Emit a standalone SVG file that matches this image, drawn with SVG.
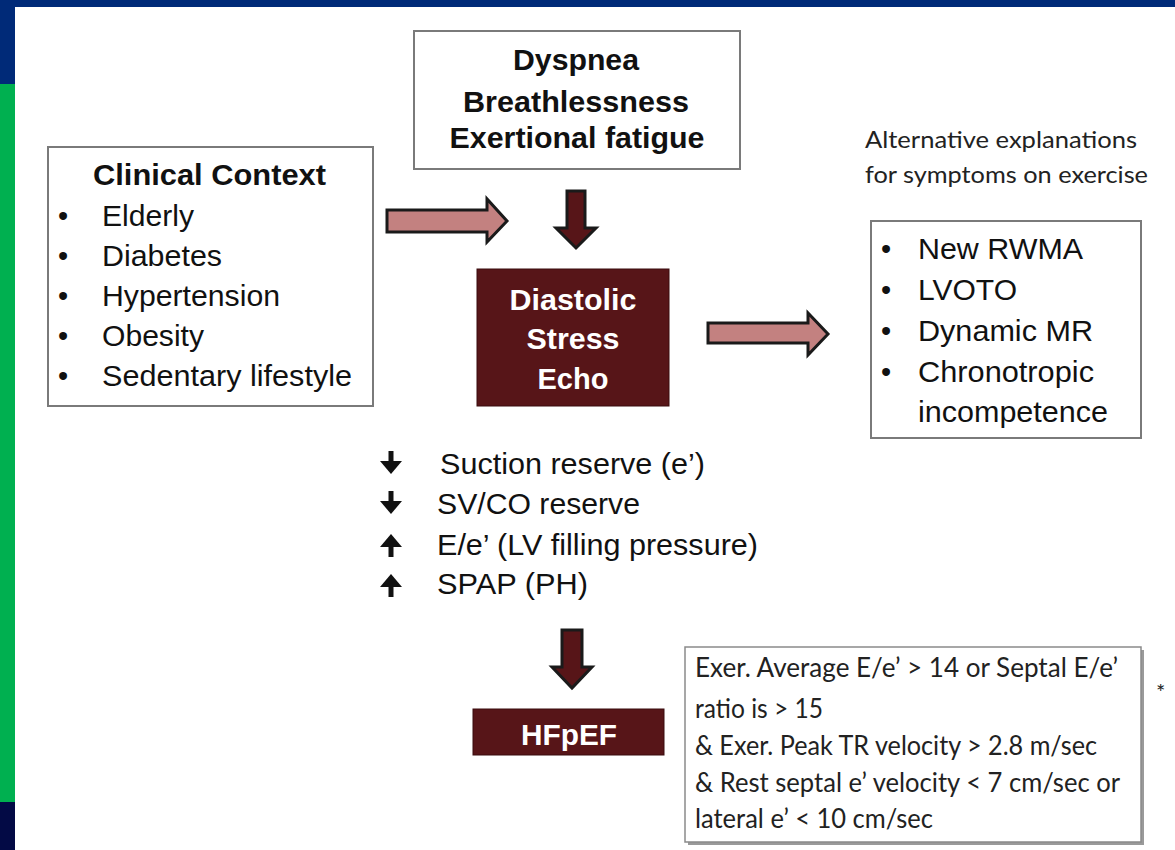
<svg xmlns="http://www.w3.org/2000/svg" width="1175" height="850" viewBox="0 0 1175 850">
<style>
.bx{fill:#fff;stroke:#7a7a7a;stroke-width:2}
.dk{fill:#571518;stroke:#3a0d0f;stroke-width:1}
.b{font-family:"Liberation Sans",Arial,sans-serif;font-weight:bold;font-size:29px;fill:#111}
.w{font-family:"Liberation Sans",Arial,sans-serif;font-weight:bold;font-size:29px;fill:#fff}
.r{font-family:"Liberation Sans",Arial,sans-serif;font-size:29px;fill:#111}
.c{font-family:Lato,"Open Sans",sans-serif;font-size:26px;fill:#222}
.pk{fill:#c38180;stroke:#1a1a1a;stroke-width:3;stroke-linejoin:miter}
.dn{fill:#571518;stroke:#1a1a1a;stroke-width:3;stroke-linejoin:miter}
.ic{fill:none;stroke:#111;stroke-width:5}
.ih{fill:#111}
</style>
<rect width="1175" height="850" fill="#fff"/>
<rect x="0" y="0" width="1175" height="7" fill="#002a78"/>
<rect x="0" y="0" width="15" height="84" fill="#002a78"/>
<rect x="0" y="84" width="15" height="718" fill="#00b050"/>
<rect x="0" y="802" width="15" height="48" fill="#030a45"/>

<g id="connectors">
<path class="pk" d="M387,210 H487 V199 L507,221 L487,242 V232 H387 Z"/>
<path class="dn" d="M567,191 H585 V228 H596 L576,248 L556,228 H567 Z"/>
<path class="pk" d="M708,323 H808 V313 L828,334 L808,355 V343 H708 Z"/>
<path class="dn" d="M562,630 H582 V667 H592 L572,688 L552,667 H562 Z"/>
</g>

<g id="symptoms">
<rect class="bx" x="414" y="31" width="326" height="138"/>
<text class="b" x="576" y="70" text-anchor="middle" textLength="126" lengthAdjust="spacingAndGlyphs">Dyspnea</text>
<text class="b" x="576" y="112" text-anchor="middle" textLength="226" lengthAdjust="spacingAndGlyphs">Breathlessness</text>
<text class="b" x="577" y="148" text-anchor="middle" textLength="255" lengthAdjust="spacingAndGlyphs">Exertional fatigue</text>
</g>

<g id="clinical">
<rect class="bx" x="48" y="147" width="325" height="259"/>
<text class="b" x="93" y="185" textLength="233" lengthAdjust="spacingAndGlyphs">Clinical Context</text>
<text class="r" x="58" y="226">•</text>
<text class="r" x="58" y="266">•</text>
<text class="r" x="58" y="306">•</text>
<text class="r" x="58" y="346">•</text>
<text class="r" x="58" y="386">•</text>
<text class="r" x="102" y="226" textLength="92" lengthAdjust="spacingAndGlyphs">Elderly</text>
<text class="r" x="102" y="266" textLength="120" lengthAdjust="spacingAndGlyphs">Diabetes</text>
<text class="r" x="102" y="306" textLength="178" lengthAdjust="spacingAndGlyphs">Hypertension</text>
<text class="r" x="102" y="346" textLength="102" lengthAdjust="spacingAndGlyphs">Obesity</text>
<text class="r" x="102" y="386" textLength="250" lengthAdjust="spacingAndGlyphs">Sedentary lifestyle</text>
</g>

<g id="dse">
<rect class="dk" x="477" y="269" width="192" height="137"/>
<text class="w" x="573" y="310" text-anchor="middle" textLength="127" lengthAdjust="spacingAndGlyphs">Diastolic</text>
<text class="w" x="573" y="349" text-anchor="middle" textLength="93" lengthAdjust="spacingAndGlyphs">Stress</text>
<text class="w" x="573" y="389" text-anchor="middle" textLength="71" lengthAdjust="spacingAndGlyphs">Echo</text>
</g>

<g id="alt-label">
<text class="c" x="865" y="148" textLength="272" lengthAdjust="spacingAndGlyphs" style="font-size:24px">Alternative explanations</text>
<text class="c" x="865" y="183" textLength="283" lengthAdjust="spacingAndGlyphs" style="font-size:24px">for symptoms on exercise</text>
</g>

<g id="alternatives">
<rect class="bx" x="871" y="221" width="270" height="217"/>
<text class="r" x="881" y="259">•</text>
<text class="r" x="881" y="300">•</text>
<text class="r" x="881" y="341">•</text>
<text class="r" x="881" y="382">•</text>
<text class="r" x="918" y="259" textLength="165" lengthAdjust="spacingAndGlyphs">New RWMA</text>
<text class="r" x="918" y="300" textLength="99" lengthAdjust="spacingAndGlyphs">LVOTO</text>
<text class="r" x="918" y="341" textLength="175" lengthAdjust="spacingAndGlyphs">Dynamic MR</text>
<text class="r" x="918" y="382" textLength="176" lengthAdjust="spacingAndGlyphs">Chronotropic</text>
<text class="r" x="918" y="422" textLength="190" lengthAdjust="spacingAndGlyphs">incompetence</text>
</g>

<g id="findings">
<path class="ic" d="M391,451 V465"/><path class="ih" d="M380,461 H402 L391,474 Z"/>
<path class="ic" d="M391,491 V505"/><path class="ih" d="M380,501 H402 L391,514 Z"/>
<path class="ic" d="M391,557 V543"/><path class="ih" d="M380,547 H402 L391,534 Z"/>
<path class="ic" d="M391,597 V583"/><path class="ih" d="M380,587 H402 L391,574 Z"/>
<text class="r" x="440" y="474" textLength="265" lengthAdjust="spacingAndGlyphs">Suction reserve (e’)</text>
<text class="r" x="437" y="514" textLength="203" lengthAdjust="spacingAndGlyphs">SV/CO reserve</text>
<text class="r" x="437" y="555" textLength="321" lengthAdjust="spacingAndGlyphs">E/e’ (LV filling pressure)</text>
<text class="r" x="437" y="594" textLength="151" lengthAdjust="spacingAndGlyphs">SPAP (PH)</text>
</g>

<g id="hfpef">
<rect class="dk" x="473" y="709" width="191" height="46"/>
<text class="w" x="569" y="745" text-anchor="middle" textLength="96" lengthAdjust="spacingAndGlyphs">HFpEF</text>
</g>

<g id="criteria">
<rect x="688" y="650" width="456" height="195" fill="#9a9a9a"/>
<rect x="685" y="647" width="456" height="195" fill="#fff" stroke="#8a8a8a" stroke-width="1.5"/>
<text class="c" x="695" y="677" textLength="423" lengthAdjust="spacingAndGlyphs">Exer. Average E/e’ &gt; 14 or Septal E/e’</text>
<text class="c" x="695" y="718" textLength="128" lengthAdjust="spacingAndGlyphs">ratio is &gt; 15</text>
<text class="c" x="695" y="755" textLength="402" lengthAdjust="spacingAndGlyphs">&amp; Exer. Peak TR velocity &gt; 2.8 m/sec</text>
<text class="c" x="695" y="792" textLength="425" lengthAdjust="spacingAndGlyphs">&amp; Rest septal e’ velocity &lt; 7 cm/sec or</text>
<text class="c" x="695" y="828" textLength="238" lengthAdjust="spacingAndGlyphs">lateral e’ &lt; 10 cm/sec</text>
<text class="c" x="1156" y="700" style="font-size:22px">*</text>
</g>
</svg>
